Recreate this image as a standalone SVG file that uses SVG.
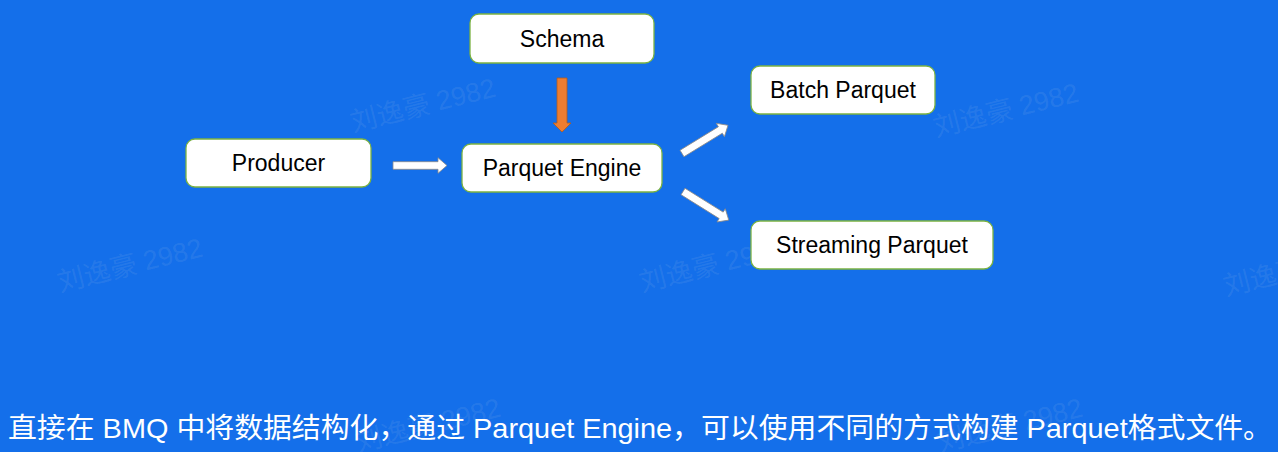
<svg xmlns="http://www.w3.org/2000/svg" width="1278" height="452" viewBox="0 0 1278 452">
  <style>
    .box { fill: #ffffff; stroke: #7cb342; stroke-width: 1.3; }
    .lbl { font-family: "Liberation Sans", Arial, sans-serif; font-size: 23px; fill: #000000; text-anchor: middle; }
    .wm { font-family: "Liberation Sans", "Noto Sans CJK SC", sans-serif; font-size: 27px; fill: #c8d4e8; fill-opacity: 0.11; }
    .arrow { fill: #ffffff; stroke: #8a8a8a; stroke-width: 0.8; }
    .orange { fill: #ed7d31; stroke: #b05a1e; stroke-width: 0.8; }
    .caption { font-family: "Liberation Sans", "Noto Sans CJK SC", sans-serif; font-size: 28px; fill: #ffffff; }
  </style>
  <defs>
    <path id="blk" d="M0,-3.8 L45,-3.8 L45,-7.8 L54,0 L45,7.8 L45,3.8 L0,3.8 Z"/>
  </defs>
  <rect x="0" y="0" width="1278" height="452" fill="#146fea"/>

  <g id="watermarks">
    <text class="wm" transform="translate(353,132) rotate(-14)">刘逸豪 2982</text>
    <text class="wm" transform="translate(936,137) rotate(-14)">刘逸豪 2982</text>
    <text class="wm" transform="translate(60,292) rotate(-14)">刘逸豪 2982</text>
    <text class="wm" transform="translate(642,292) rotate(-14)">刘逸豪 2982</text>
    <text class="wm" transform="translate(1226,296) rotate(-14)">刘逸豪 2982</text>
    <text class="wm" transform="translate(358,452) rotate(-14)">刘逸豪 2982</text>
    <text class="wm" transform="translate(940,452) rotate(-14)">刘逸豪 2982</text>
  </g>

  <g id="connectors">
    <g transform="translate(562,78) rotate(90)">
      <path class="orange" d="M0,-5 L45,-5 L45,-9 L54,0 L45,9 L45,5 L0,5 Z"/>
    </g>
    <use href="#blk" class="arrow" transform="translate(393,165.5)"/>
    <use href="#blk" class="arrow" transform="translate(682,153.5) rotate(-31.5)"/>
    <use href="#blk" class="arrow" transform="translate(683,191.5) rotate(32)"/>
  </g>

  <g id="node-schema">
    <rect class="box" x="470" y="14" width="184" height="49" rx="9"/>
    <text class="lbl" x="562" y="46.5">Schema</text>
  </g>
  <g id="node-producer">
    <rect class="box" x="186" y="139" width="185" height="48" rx="9"/>
    <text class="lbl" x="278.5" y="171">Producer</text>
  </g>
  <g id="node-engine">
    <rect class="box" x="462" y="144" width="200" height="48" rx="9"/>
    <text class="lbl" x="562" y="176">Parquet Engine</text>
  </g>
  <g id="node-batch">
    <rect class="box" x="751" y="66" width="184" height="48" rx="9"/>
    <text class="lbl" x="843" y="98">Batch Parquet</text>
  </g>
  <g id="node-streaming">
    <rect class="box" x="751" y="221" width="242" height="48" rx="9"/>
    <text class="lbl" x="872" y="253">Streaming Parquet</text>
  </g>

  <text class="caption" x="8" y="438" textLength="1264" lengthAdjust="spacingAndGlyphs">直接在 BMQ 中将数据结构化，通过 Parquet Engine，可以使用不同的方式构建 Parquet格式文件。</text>
</svg>
